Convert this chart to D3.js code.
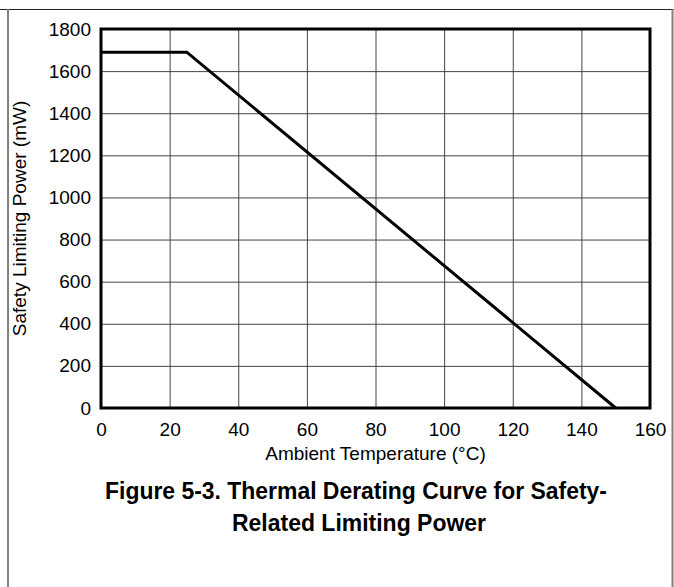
<!DOCTYPE html>
<html>
<head>
<meta charset="utf-8">
<script src="https://cdn.jsdelivr.net/npm/d3@7/dist/d3.min.js"></script>
<style>
  html, body { margin: 0; padding: 0; background: #fff; }
  svg { display: block; }
  text { font-family: "Liberation Sans", Arial, Helvetica, sans-serif; fill: #000; }
</style>
</head>
<body>
<svg id="chart" width="674" height="587"></svg>
<script>
// Data
const temperatures = [0, 25, 150];          // Ambient temperature (°C)
const powerValues = [1690, 1690, 0];        // Safety limiting power (mW)
const xTicks = [0, 20, 40, 60, 80, 100, 120, 140, 160];
const yTicks = [0, 200, 400, 600, 800, 1000, 1200, 1400, 1600, 1800];
const xLabel = "Ambient Temperature (°C)";
const yLabel = "Safety Limiting Power (mW)";
const titleLines = ["Figure 5-3. Thermal Derating Curve for Safety-", "Related Limiting Power"];

const svg = d3.select("#chart");
const W = 674, H = 587;
const plot = { left: 101, right: 650, top: 29, bottom: 408 };

// outer frame lines
svg.append("line").attr("x1", 0).attr("x2", W).attr("y1", 9.5).attr("y2", 9.5)
  .attr("stroke", "#222").attr("stroke-width", 1);
svg.append("line").attr("x1", 8).attr("x2", 8).attr("y1", 9).attr("y2", H)
  .attr("stroke", "#808080").attr("stroke-width", 2);
svg.append("line").attr("x1", 672.5).attr("x2", 672.5).attr("y1", 9).attr("y2", H)
  .attr("stroke", "#808080").attr("stroke-width", 2);

const x = d3.scaleLinear().domain([0, 160]).range([plot.left, plot.right]);
const y = d3.scaleLinear().domain([0, 1800]).range([plot.bottom, plot.top]);

// grid
const gx = svg.append("g").attr("transform", `translate(0,${plot.bottom})`)
  .call(d3.axisBottom(x).tickValues(xTicks).tickSize(-(plot.bottom - plot.top)).tickFormat(""));
gx.select(".domain").remove();
gx.selectAll("line").attr("stroke", "#444").attr("stroke-width", 1);

const gy = svg.append("g").attr("transform", `translate(${plot.left},0)`)
  .call(d3.axisLeft(y).tickValues(yTicks).tickSize(-(plot.right - plot.left)).tickFormat(""));
gy.select(".domain").remove();
gy.selectAll("line").attr("stroke", "#444").attr("stroke-width", 1);

// tick labels
const xl = svg.append("g").attr("transform", `translate(0,${plot.bottom})`)
  .call(d3.axisBottom(x).tickValues(xTicks).tickSize(0).tickPadding(15).tickFormat(d3.format("d")));
xl.select(".domain").remove();
xl.selectAll("text").attr("font-size", 19).attr("fill", "#000");

const yl = svg.append("g").attr("transform", `translate(${plot.left},0)`)
  .call(d3.axisLeft(y).tickValues(yTicks).tickSize(0).tickPadding(10).tickFormat(d3.format("d")));
yl.select(".domain").remove();
yl.selectAll("text").attr("font-size", 19).attr("fill", "#000");

// frame
svg.append("rect").attr("x", plot.left).attr("y", plot.top)
  .attr("width", plot.right - plot.left).attr("height", plot.bottom - plot.top)
  .attr("fill", "none").attr("stroke", "#000").attr("stroke-width", 3);

// curve
const line = d3.line().x((d, i) => x(temperatures[i])).y((d, i) => y(powerValues[i]));
svg.append("path").datum(temperatures).attr("d", line)
  .attr("fill", "none").attr("stroke", "#000").attr("stroke-width", 3)
  .attr("stroke-linejoin", "miter");

// axis labels
svg.append("text").attr("x", (plot.left + plot.right) / 2).attr("y", 460)
  .attr("text-anchor", "middle").attr("font-size", 19).text(xLabel);
svg.append("text").attr("transform", `translate(26,${(plot.top + plot.bottom) / 2}) rotate(-90)`)
  .attr("text-anchor", "middle").attr("font-size", 19).text(yLabel);

// title
svg.append("text").attr("x", 356).attr("y", 499).attr("text-anchor", "middle")
  .attr("font-size", 24).attr("font-weight", "bold").attr("textLength", 502)
  .attr("lengthAdjust", "spacingAndGlyphs").text(titleLines[0]);
svg.append("text").attr("x", 359).attr("y", 531).attr("text-anchor", "middle")
  .attr("font-size", 24).attr("font-weight", "bold").attr("textLength", 254)
  .attr("lengthAdjust", "spacingAndGlyphs").text(titleLines[1]);
</script>
</body>
</html>
